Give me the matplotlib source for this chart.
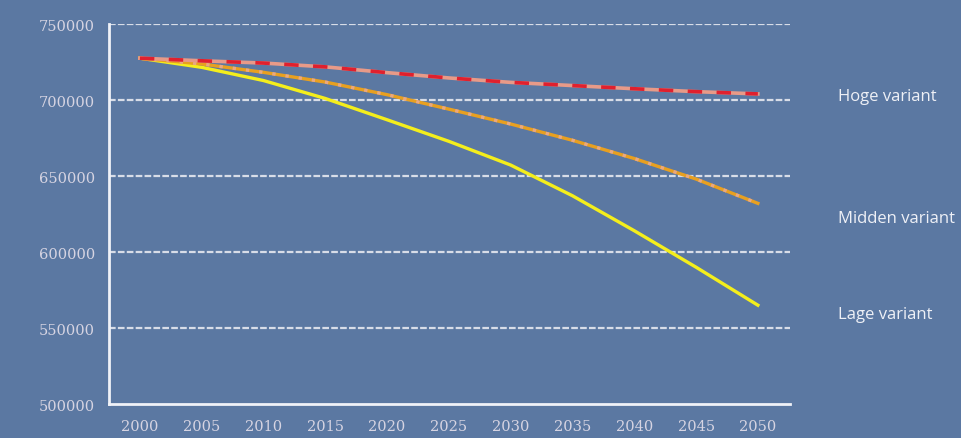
import matplotlib.pyplot as plt
import numpy as np

# Population projection, three scenarios
years = [2000, 2005, 2010, 2015, 2020, 2025, 2030, 2035, 2040, 2045, 2050]
hoge = [727500, 725800, 724300, 721800, 718000, 714500, 711600, 709500, 707400, 705500, 704000]
midden = [727500, 723700, 718200, 711800, 703500, 694000, 684200, 673500, 661500, 648000, 632000]
lage = [727500, 721500, 712800, 701000, 687000, 672800, 657200, 637000, 614000, 590000, 565000]
series_labels = ["Hoge variant", "Midden variant", "Lage variant"]
yticks = [500000, 550000, 600000, 650000, 700000, 750000]

bg = "#5b78a2"
fg = "#eef0f6"
tick_col = "#d6d4e2"


def main():
    fig = plt.figure(figsize=(9.62, 4.39), dpi=100, facecolor=bg)
    ax = fig.add_axes([109 / 962, 1 - 405 / 439, (790 - 109) / 962, (405 - 25) / 439])
    ax.set_facecolor(bg)

    ax.set_xlim(1997.5, 2052.6)
    ax.set_ylim(500000, 750000)

    for y in yticks[1:]:
        ax.axhline(y, color="#d8dde8", lw=1.6, ls=(0, (3, 1)), zorder=1)

    # lage and midden first, hoge drawn on top
    ax.plot(years, lage, color="#f4ee1c", lw=2.4, zorder=3)
    ax.plot(years, midden, color="#e8a020", lw=2.4, zorder=3)
    ax.plot(years, midden, color="#eaa880", lw=2.4, ls=(0, (1, 3)), zorder=3)
    ax.plot(years, hoge, color="#e89a88", lw=2.6, zorder=4)
    ax.plot(years, hoge, color="#e0202e", lw=2.6, ls=(0, (4, 4)), zorder=4)

    for s in ["top", "right"]:
        ax.spines[s].set_visible(False)
    for s in ["left", "bottom"]:
        ax.spines[s].set_color("#f0f2f8")
        ax.spines[s].set_linewidth(2)

    ax.set_xticks(years)
    ax.set_xticklabels([str(y) for y in years])
    ax.set_yticks(yticks)
    ax.set_yticklabels([str(y) for y in yticks])
    ax.tick_params(length=0, colors=tick_col, labelsize=10.5)
    ax.tick_params(axis="x", pad=11)
    ax.tick_params(axis="y", pad=10)
    for lab in ax.get_xticklabels() + ax.get_yticklabels():
        lab.set_family("DejaVu Serif")

    label_y = [97, 219, 315]
    for text, py in zip(series_labels, label_y):
        fig.text(838 / 962, 1 - py / 439, text, color=fg, fontsize=12,
                 family="Open Sans", va="center", ha="left")

    fig.savefig("out.png", dpi=100, facecolor=bg)


if __name__ == "__main__":

    main()
